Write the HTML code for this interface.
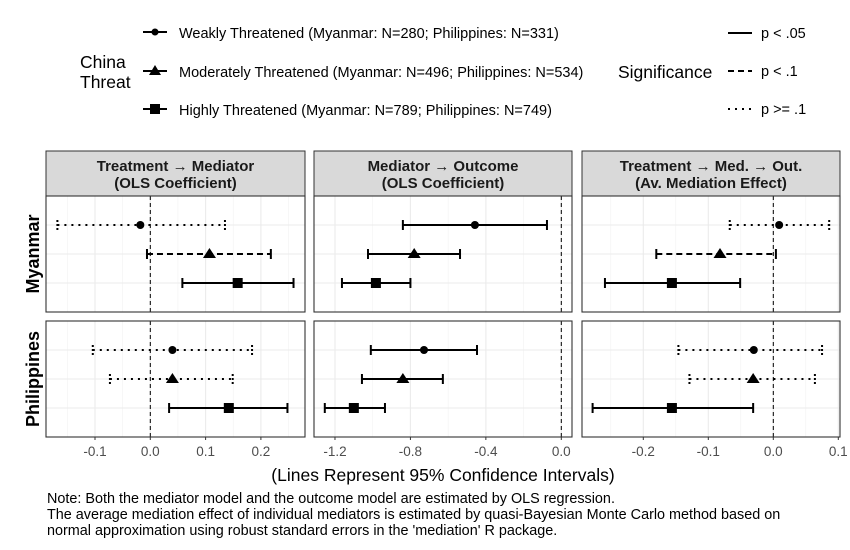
<!DOCTYPE html>
<html><head><meta charset="utf-8">
<style>
html,body{margin:0;padding:0;background:#fff;}
svg{display:block;font-family:"Liberation Sans",Arial,sans-serif;}
</style></head>
<body>
<svg id="chart" width="850" height="550" viewBox="0 0 850 550" xmlns="http://www.w3.org/2000/svg">
<g id="legend">
  <text x="80" y="68" font-size="17.5">China</text>
  <text x="80" y="88" font-size="17.5">Threat</text>
  <g>
    <line x1="143" y1="32" x2="167" y2="32" stroke="#000" stroke-width="2"/><circle cx="155" cy="32" r="3.5"/>
    <text x="179" y="38" font-size="14.5">Weakly Threatened (Myanmar: N=280; Philippines: N=331)</text></g>
  <g>
    <line x1="143" y1="71" x2="167" y2="71" stroke="#000" stroke-width="2"/><polygon points="155,65 161,75 149,75"/>
    <text x="179" y="77" font-size="14.5">Moderately Threatened (Myanmar: N=496; Philippines: N=534)</text></g>
  <g>
    <line x1="143" y1="109" x2="167" y2="109" stroke="#000" stroke-width="2"/><rect x="150" y="104" width="10" height="10"/>
    <text x="179" y="115" font-size="14.5">Highly Threatened (Myanmar: N=789; Philippines: N=749)</text></g>
  <text x="618" y="78" font-size="17.5">Significance</text>
  <g><line x1="728" y1="33" x2="752" y2="33" stroke="#000" stroke-width="2"/><text x="761" y="38" font-size="14.5">p &lt; .05</text></g>
  <g><line x1="728" y1="71" x2="752" y2="71" stroke="#000" stroke-width="2" stroke-dasharray="6,4"/><text x="761" y="76" font-size="14.5">p &lt; .1</text></g>
  <g><line x1="728" y1="109" x2="752" y2="109" stroke="#000" stroke-width="2" stroke-dasharray="2,5"/><text x="761" y="114" font-size="14.5">p &gt;= .1</text></g>
</g>
<g id="panels"></g>
<text x="443" y="481" font-size="17.5" text-anchor="middle">(Lines Represent 95% Confidence Intervals)</text>
<g font-size="14.4">
<text x="47" y="503">Note: Both the mediator model and the outcome model are estimated by OLS regression.</text>
<text x="47" y="519">The average mediation effect of individual mediators is estimated by quasi-Bayesian Monte Carlo method based on</text>
<text x="47" y="535">normal approximation using robust standard errors in the 'mediation' R package.</text>
</g>
</svg>
<script>
// data: rows = [Myanmar, Philippines], each has [weak, moderate, high]
const panelTitles = [["Treatment \u2192 Mediator","(OLS Coefficient)"],["Mediator \u2192 Outcome","(OLS Coefficient)"],["Treatment \u2192 Med. \u2192 Out.","(Av. Mediation Effect)"]];
const countries = ["Myanmar","Philippines"];
const groups = ["weak","moderate","high"];
const est1 = [[-0.018,0.107,0.158],[0.040,0.040,0.142]];
const lo1  = [[-0.168,-0.006,0.058],[-0.104,-0.073,0.034]];
const hi1  = [[0.135,0.218,0.259],[0.184,0.149,0.248]];
const sig1 = [["dot","dash","solid"],["dot","dot","solid"]];
const est2 = [[-0.458,-0.78,-0.983],[-0.728,-0.84,-1.10]];
const lo2  = [[-0.84,-1.025,-1.163],[-1.01,-1.057,-1.254]];
const hi2  = [[-0.076,-0.537,-0.80],[-0.447,-0.628,-0.935]];
const sig2 = [["solid","solid","solid"],["solid","solid","solid"]];
const est3 = [[0.009,-0.082,-0.156],[-0.030,-0.031,-0.156]];
const lo3  = [[-0.067,-0.180,-0.259],[-0.146,-0.129,-0.278]];
const hi3  = [[0.086,0.004,-0.051],[0.075,0.064,-0.031]];
const sig3 = [["dot","dash","solid"],["dot","dot","solid"]];
const ticks1 = [-0.1,0.0,0.1,0.2];
const ticks2 = [-1.2,-0.8,-0.4,0.0];
const ticks3 = [-0.2,-0.1,0.0,0.1];
const tickLabels1 = ["-0.1","0.0","0.1","0.2"];
const tickLabels2 = ["-1.2","-0.8","-0.4","0.0"];
const tickLabels3 = ["-0.2","-0.1","0.0","0.1"];

const NS="http://www.w3.org/2000/svg";
const root=document.getElementById("panels");
function mk(tag,attrs,parent){const e=document.createElementNS(NS,tag);for(const k in attrs)e.setAttribute(k,attrs[k]);(parent||root).appendChild(e);return e;}
const panels=[
 {x0:46,x1:305,v0:0,p0:150.3,scale:553,ticks:ticks1,labels:tickLabels1,minorStep:0.05,dom:[-0.19,0.28],est:est1,lo:lo1,hi:hi1,sig:sig1},
 {x0:314,x1:572,v0:0,p0:561.3,scale:188.6,ticks:ticks2,labels:tickLabels2,minorStep:0.2,dom:[-1.35,0.06],est:est2,lo:lo2,hi:hi2,sig:sig2},
 {x0:582,x1:840,v0:0,p0:773.3,scale:650,ticks:ticks3,labels:tickLabels3,minorStep:0.05,dom:[-0.3,0.11],est:est3,lo:lo3,hi:hi3,sig:sig3}
];
const rowsY=[[196,312],[321,437]];
const offs=[0.25,0.5,0.75];
const dashes={solid:"",dash:"6,4",dot:"2,5"};
panels.forEach((p,pi)=>{
  const X=v=>p.p0+(v-p.v0)*p.scale;
  const g=mk("g",{});
  
  
  const strip=mk("rect",{x:p.x0,y:151,width:p.x1-p.x0,height:45,fill:"#d9d9d9",stroke:"#333","stroke-width":1},g);
  
  
  const cx=(p.x0+p.x1)/2;
  mk("text",{x:cx,y:171,"font-size":15,"font-weight":"bold","text-anchor":"middle",fill:"#1a1a1a"},g).textContent=panelTitles[pi][0];
  mk("text",{x:cx,y:188,"font-size":15,"font-weight":"bold","text-anchor":"middle",fill:"#1a1a1a"},g).textContent=panelTitles[pi][1];
  rowsY.forEach((ry,ri)=>{
    const cg=mk("g",{},g);
    
    
    const clipId="c"+pi+"_"+ri;
    const cp=mk("clipPath",{id:clipId},cg);mk("rect",{x:p.x0,y:ry[0],width:p.x1-p.x0,height:ry[1]-ry[0]},cp);
    const inner=mk("g",{"clip-path":"url(#"+clipId+")"},cg);
    for(let v=Math.ceil(p.dom[0]/p.minorStep)*p.minorStep; v<=p.dom[1]; v+=p.minorStep){
      mk("line",{x1:X(v),x2:X(v),y1:ry[0],y2:ry[1],stroke:"#f2f2f2","stroke-width":0.6},inner);
    }
    p.ticks.forEach(t=>mk("line",{x1:X(t),x2:X(t),y1:ry[0],y2:ry[1],stroke:"#ebebeb","stroke-width":1.1},inner));
    const h=ry[1]-ry[0];
    offs.forEach(o=>mk("line",{x1:p.x0,x2:p.x1,y1:ry[0]+o*h,y2:ry[0]+o*h,stroke:"#ebebeb","stroke-width":1.1},inner));
    mk("line",{x1:X(0),x2:X(0),y1:ry[0],y2:ry[1],stroke:"#000","stroke-width":1,"stroke-dasharray":"4,3"},inner);
    groups.forEach((gn,gi)=>{
      const y=ry[0]+offs[gi]*h;
      const eg=mk("g",{},inner);
      
      
      const xl=X(p.lo[ri][gi]),xh=X(p.hi[ri][gi]),xe=X(p.est[ri][gi]);
      const d=dashes[p.sig[ri][gi]];
      const la={x1:xl,x2:xh,y1:y,y2:y,stroke:"#000","stroke-width":2};if(d)la["stroke-dasharray"]=d;
      mk("line",la,eg);
      [xl,xh].forEach(xx=>{const ca={x1:xx,x2:xx,y1:y-5,y2:y+5,stroke:"#000","stroke-width":2};if(d)ca["stroke-dasharray"]=(p.sig[ri][gi]==="dot"?"2,2":"");mk("line",ca,eg);});
      if(gi===0) mk("circle",{cx:xe,cy:y,r:4},eg);
      else if(gi===1) mk("polygon",{points:`${xe},${y-6} ${xe+6.5},${y+4} ${xe-6.5},${y+4}`},eg);
      else mk("rect",{x:xe-5,y:y-5,width:10,height:10},eg);
    });
    mk("rect",{x:p.x0,y:ry[0],width:p.x1-p.x0,height:h,fill:"none",stroke:"#333","stroke-width":1.1},cg);
  });
  p.ticks.forEach((t,ti)=>{
    mk("line",{x1:X(t),x2:X(t),y1:437,y2:440,stroke:"#333"},g);
    const tl=mk("text",{x:X(t),y:456,"font-size":13.5,"text-anchor":"middle",fill:"#4d4d4d"},g);
    tl.textContent=p.labels[ti];
    
    
  });
});
countries.forEach((c,ri)=>{
  const yc=(rowsY[ri][0]+rowsY[ri][1])/2;
  const t=mk("text",{x:0,y:0,"font-size":18,"font-weight":"bold","text-anchor":"middle",transform:`translate(39,${yc}) rotate(-90)`});
  t.textContent=c;
  
  
});
</script>
</body></html>
